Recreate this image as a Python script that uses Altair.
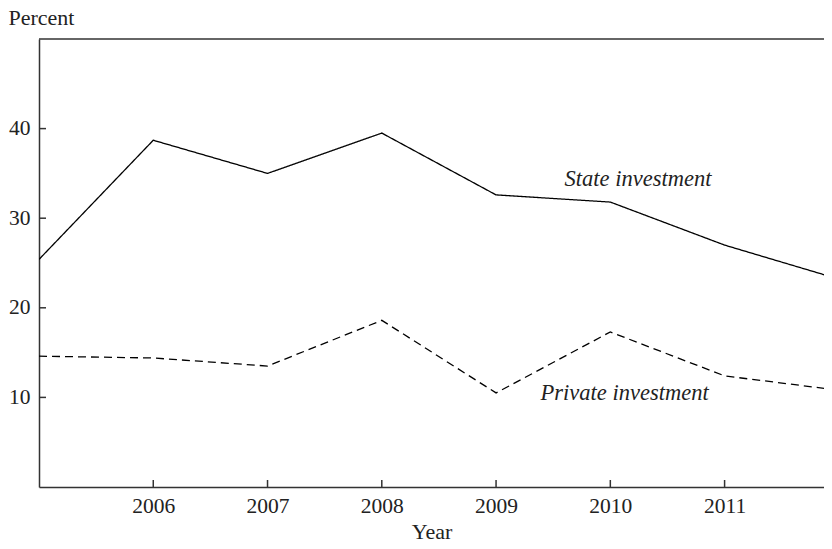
import altair as alt
import pandas as pd

years = [2005, 2006, 2007, 2008, 2009, 2010, 2011, 2012]
state = [25.4, 38.7, 35.0, 39.5, 32.6, 31.8, 27.0, 23.2]
private = [14.6, 14.4, 13.5, 18.6, 10.5, 17.3, 12.4, 10.8]
x_ticks = [2006, 2007, 2008, 2009, 2010, 2011]
y_ticks = [10, 20, 30, 40]
labels = ["State investment", "Private investment"]
label_x = [2009.60, 2009.39]
label_y = [33.6, 9.74]
x_domain = [2005, 2011.87]
y_domain = [0, 50]

W, H = 785, 448
FONT = "Liberation Serif"
AX = "#333333"

df = pd.DataFrame({
    "year": years * 2,
    "value": state + private,
    "series": ["State"] * len(years) + ["Private"] * len(years),
})

xs = alt.Scale(domain=x_domain, nice=False, zero=False)
ys = alt.Scale(domain=y_domain, nice=False, zero=False)

lines = alt.Chart(df).mark_line(color="black", strokeWidth=1.3, clip=True).encode(
    x=alt.X("year:Q", scale=xs, axis=alt.Axis(
        values=x_ticks, format="d", title="Year", ticks=False, grid=False,
        labelPadding=25, labelBaseline="alphabetic",
        titleBaseline="alphabetic", titleY=51, labelFlush=False)),
    y=alt.Y("value:Q", scale=ys, axis=alt.Axis(
        values=y_ticks, title="Percent", ticks=False, grid=False,
        labelPadding=9, titleAngle=0, titleAlign="left",
        titleBaseline="alphabetic", titleX=-31, titleY=-15)),
    strokeDash=alt.StrokeDash("series:N", scale=alt.Scale(
        domain=["State", "Private"], range=[[1, 0], [8, 5]]), legend=None),
    detail="series:N",
)

ytick = alt.Chart(pd.DataFrame({"value": y_ticks})).mark_rule(
    color=AX, strokeWidth=1.5).encode(
    y=alt.Y("value:Q", scale=ys), x=alt.value(0), x2=alt.value(7))

xtick = alt.Chart(pd.DataFrame({"year": x_ticks})).mark_rule(
    color=AX, strokeWidth=1.5).encode(
    x=alt.X("year:Q", scale=xs), y=alt.value(H), y2=alt.value(H - 7))

top = alt.Chart(pd.DataFrame({"year": [2005]})).mark_rule(
    color=AX, strokeWidth=1.5).encode(
    y=alt.value(0), x=alt.value(0), x2=alt.value(W))

text = alt.Chart(pd.DataFrame({"year": label_x, "value": label_y, "label": labels})).mark_text(
    align="left", baseline="alphabetic", font=FONT, fontStyle="italic",
    fontSize=22.5, color="#222222").encode(
    x=alt.X("year:Q", scale=xs), y=alt.Y("value:Q", scale=ys), text="label:N")

chart = alt.layer(lines, ytick, xtick, top, text).properties(
    width=W, height=H,
    autosize=alt.AutoSizeParams(type="none"),
    padding={"left": 31, "top": 31, "right": 0, "bottom": 55},
).configure_view(stroke=None).configure_axis(
    labelFont=FONT, titleFont=FONT, labelFontSize=21.5, titleFontSize=22,
    titleFontWeight="normal", labelColor="#222222", titleColor="#222222",
    domainColor=AX, domainWidth=1.5,
)

chart.save("out.html", embed_options={"renderer": "svg", "actions": False})
